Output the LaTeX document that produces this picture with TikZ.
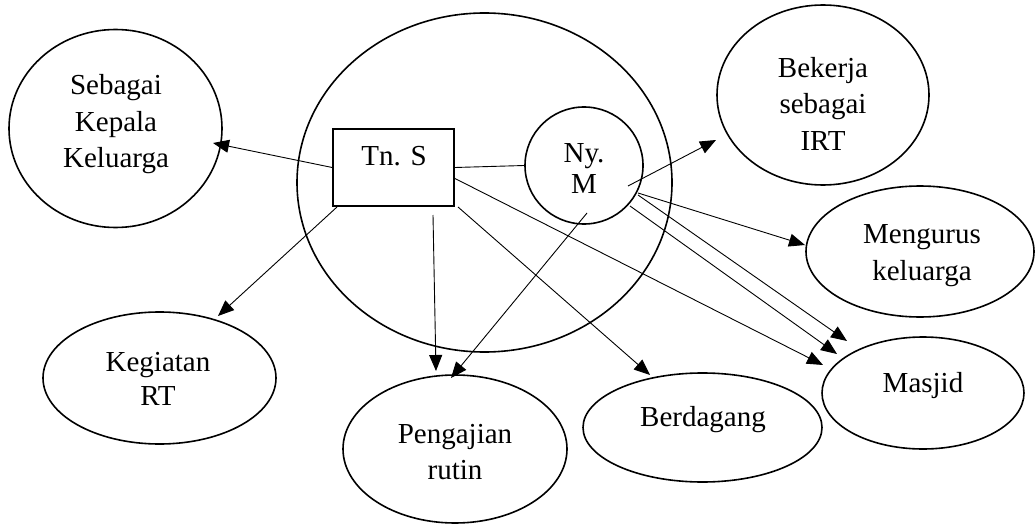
\documentclass[tikz,border=0pt]{standalone}
\usepackage{fontspec}
\setmainfont{Liberation Serif}
\usetikzlibrary{arrows.meta,shapes.geometric}
\begin{document}
\begin{tikzpicture}[x=1pt,y=-1pt,
  shapebox/.style={draw,line width=1.6pt,ellipse,inner sep=0pt},
  rectbox/.style={draw,line width=1.6pt,rectangle,inner sep=0pt},
  lbl/.style={font=\fontsize{29}{36.5}\selectfont,inner sep=0pt,anchor=base},
  arr/.style={line width=0.9pt,-{Triangle[length=16pt,width=13pt]}},
  ln/.style={line width=0.9pt}]
\useasboundingbox (0,0) rectangle (1036,524);
% shapes
\node[shapebox,minimum width=375pt,minimum height=339pt] (big) at (484.5,182.5) {};
\node[rectbox,minimum width=121pt,minimum height=77pt] (tns) at (393.5,167.5) {};
\node[shapebox,minimum width=118pt,minimum height=117pt] (nym) at (584,165.5) {};
\node[shapebox,minimum width=213pt,minimum height=198pt] (kepala) at (115.5,128.5) {};
\node[shapebox,minimum width=233pt,minimum height=132pt] (kegiatan) at (159.5,378) {};
\node[shapebox,minimum width=224pt,minimum height=148pt] (pengajian) at (455,449) {};
\node[shapebox,minimum width=239pt,minimum height=109pt] (berdagang) at (702.5,427.5) {};
\node[shapebox,minimum width=202pt,minimum height=112pt] (masjid) at (923,393) {};
\node[shapebox,minimum width=212pt,minimum height=180pt] (bekerja) at (823,95) {};
\node[shapebox,minimum width=228pt,minimum height=131pt] (mengurus) at (920,251.5) {};
% labels (anchored at the baseline of the first line)
\node[lbl] (ltns) at (394,165) {Tn. S};
\node[lbl,font=\fontsize{29}{32}\selectfont] (lnym) at (584,162) {\begin{tabular}[t]{@{}c@{}}Ny.\\M\end{tabular}};
\node[lbl] (lkepala) at (116,95) {\begin{tabular}[t]{@{}c@{}}Sebagai\\Kepala\\Keluarga\end{tabular}};
\node[lbl,font=\fontsize{29}{34}\selectfont] (lkegiatan) at (158,371) {\begin{tabular}[t]{@{}c@{}}Kegiatan\\RT\end{tabular}};
\node[lbl] (lpengajian) at (455,443) {\begin{tabular}[t]{@{}c@{}}Pengajian\\rutin\end{tabular}};
\node[lbl] (lberdagang) at (703,426.5) {Berdagang};
\node[lbl] (lmasjid) at (923,392.5) {Masjid};
\node[lbl] (lbekerja) at (823,77.5) {\begin{tabular}[t]{@{}c@{}}Bekerja\\sebagai\\IRT\end{tabular}};
\node[lbl] (lmengurus) at (922,243.5) {\begin{tabular}[t]{@{}c@{}}Mengurus\\keluarga\end{tabular}};
% connector ends
\coordinate (s3) at (337,207);
\coordinate (s4) at (433,215);
\coordinate (s5) at (587,213);
\coordinate (s6) at (458,207);
\coordinate (s7) at (454,178);
\coordinate (s8) at (628,186);
\coordinate (s9) at (638,193);
\coordinate (s10) at (638,195);
\coordinate (s11) at (630,206);
\coordinate (t1) at (213,143);
\coordinate (t3) at (218,316);
\coordinate (t4) at (436,371);
\coordinate (t5) at (451,378);
\coordinate (t6) at (650,375);
\coordinate (t7) at (823,365);
\coordinate (t8) at (716,140);
\coordinate (t9) at (805,245);
\coordinate (t10) at (847,341);
\coordinate (t11) at (837,354);
% connectors
\draw[ln] (tns.east) -- (nym.west);
\draw[arr] (tns.west) -- (t1);
\draw[arr] (s3) -- (t3);
\draw[arr] (s4) -- (t4);
\draw[arr] (s5) -- (t5);
\draw[arr] (s6) -- (t6);
\draw[arr] (s7) -- (t7);
\draw[arr] (s8) -- (t8);
\draw[arr] (s9) -- (t9);
\draw[arr] (s10) -- (t10);
\draw[arr] (s11) -- (t11);
\end{tikzpicture}
\end{document}
